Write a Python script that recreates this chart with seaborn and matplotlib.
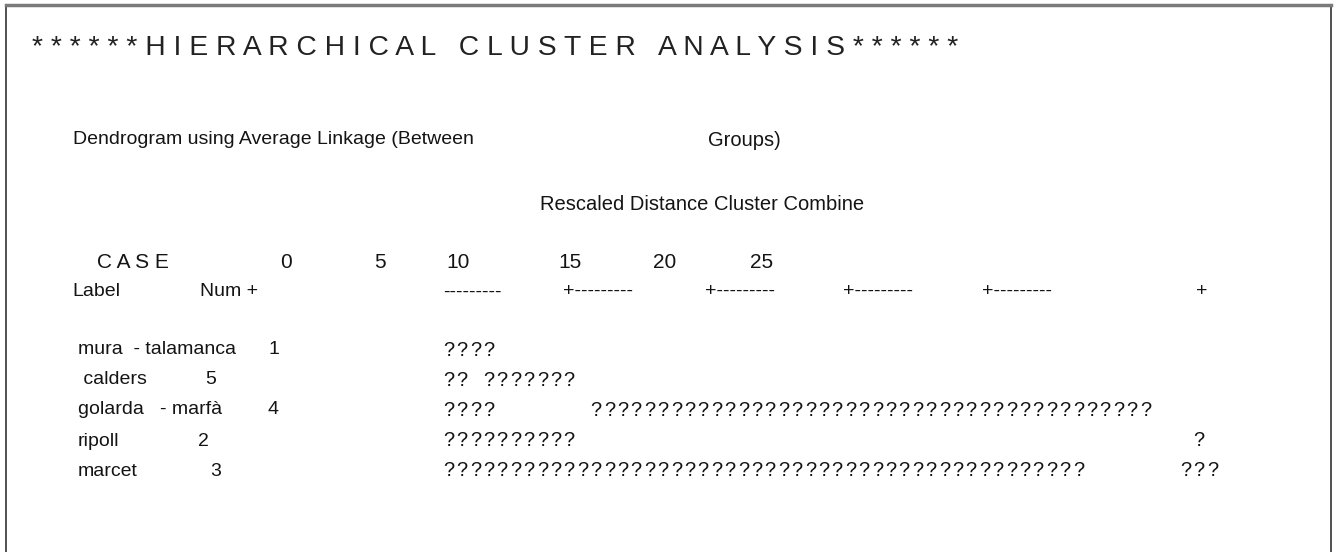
import matplotlib
matplotlib.use("Agg")
import matplotlib.pyplot as plt
import seaborn as sns

# ===== Text content of the SPSS output =====
title = "******HIERARCHICAL CLUSTER ANALYSIS******"
method_text = "Dendrogram using Average Linkage (Between"
method_tail = "Groups)"
axis_title = "Rescaled Distance Cluster Combine"
case_header = "C A S E"
scale_ticks = ["0", "5", "10", "15", "20", "25"]
ruler = ["Num +", "---------", "+---------", "+---------", "+---------", "+---------", "+"]

case_labels = ["mura  - talamanca", " calders", "golarda   - marfà", "ripoll", "marcet"]
case_nums = ["1", "5", "4", "2", "3"]
tree_rows = [
    "????",
    "?? ???????",
    "????       ??????????????????????????????????????????",
    "??????????                                              ?",
    "????????????????????????????????????????????????       ???",
]

# ===== Style =====
sns.set_theme(style="white")
plt.rcParams['font.family'] = ['Liberation Sans', 'DejaVu Sans']
ink = "#141414"

W, H = 1338, 552
fig = plt.figure(figsize=(W / 100, H / 100), dpi=100)
ax = fig.add_axes([6 / W, 0, 1325 / W, 547 / H])
ax.set_xlim(6, 1331)
ax.set_ylim(552, 5)
ax.set_xticks([])
ax.set_yticks([])
for side in ["left", "right"]:
    ax.spines[side].set_color("#333333")
    ax.spines[side].set_linewidth(1.2)
ax.spines["top"].set_color("#7a7a7a")
ax.spines["top"].set_linewidth(2.5)
ax.spines["bottom"].set_visible(False)

fs = 14

# title, letter spaced
spaced_title = " ".join(title)
ax.text(32, 48, spaced_title, fontsize=20.3, color="#222222", va="center", ha="left")

ax.text(73, 140, method_text, fontsize=fs, color=ink, va="center", ha="left")
ax.text(708, 140, method_tail, fontsize=fs + 0.5, color=ink, va="center", ha="left")
ax.text(540, 205, axis_title, fontsize=fs + 0.5, color=ink, va="center", ha="left")

# scale header
ax.text(97, 263, case_header, fontsize=fs + 1, color=ink, va="center", ha="left")
tick_x = [286, 380, 458, 570, 665, 762]
for x, t in zip(tick_x, scale_ticks):
    ax.text(x, 263, t, fontsize=fs + 1, color=ink, va="center", ha="center")

ax.text(72, 292, "Label", fontsize=fs, color=ink, va="center", ha="left")
ruler_x = [200, 443, 563, 705, 843, 982, 1196]
for x, r in zip(ruler_x, ruler):
    ax.text(x, 292, r, fontsize=fs, color=ink, va="center", ha="left")

# case rows
row_y = [350, 380, 410, 441, 471]
num_x = [268, 205, 268, 198, 210]
x0, pitch = 443, 13.4
for y, lab, nx, num, tree in zip(row_y, case_labels, num_x, case_nums, tree_rows):
    ax.text(78, y, lab, fontsize=fs, color=ink, va="center", ha="left")
    ax.text(nx, y, num, fontsize=fs, color=ink, va="center", ha="left")
    for i, ch in enumerate(tree):
        if ch != " ":
            ax.text(x0 + i * pitch, y, ch, fontsize=fs + 0.5, color=ink, va="center", ha="left")

fig.savefig("out.png", dpi=100)
plt.close(fig)
